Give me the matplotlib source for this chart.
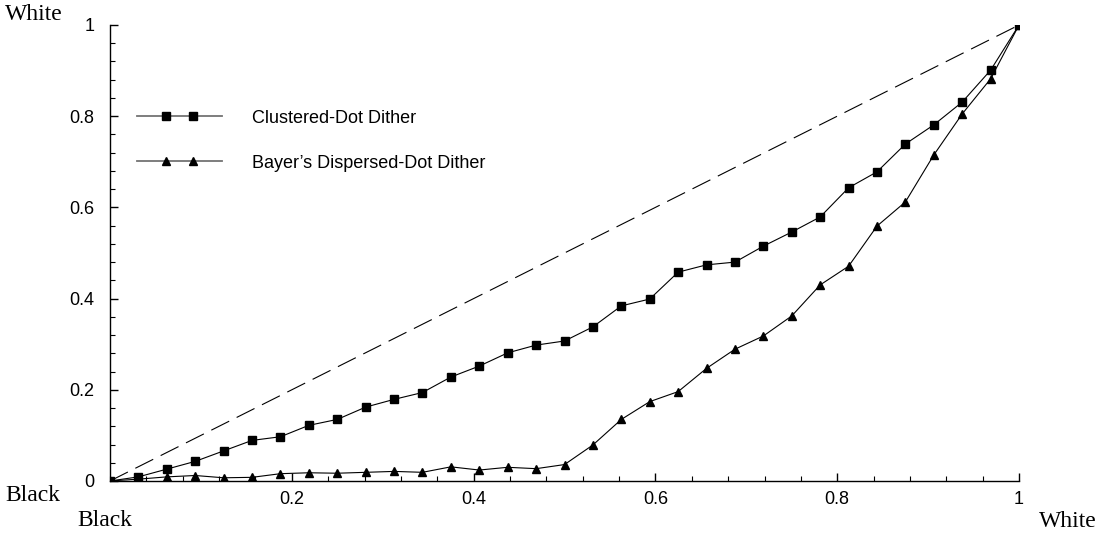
import numpy as np
import matplotlib
matplotlib.use("Agg")
import matplotlib.pyplot as plt
from matplotlib.lines import Line2D
from matplotlib.legend_handler import HandlerLine2D, HandlerTuple
from matplotlib.ticker import MultipleLocator

# input gray level (33 steps from black to white)
levels = np.arange(33) / 32

clustered = [0.0, 0.009, 0.026, 0.043, 0.066, 0.089, 0.097, 0.122, 0.135, 0.162,
             0.179, 0.194, 0.228, 0.252, 0.281, 0.298, 0.307, 0.338, 0.384, 0.399,
             0.458, 0.474, 0.480, 0.515, 0.546, 0.579, 0.643, 0.678, 0.739, 0.781,
             0.831, 0.901, 1.0]

bayer = [0.0, 0.004, 0.009, 0.012, 0.007, 0.008, 0.016, 0.018, 0.017, 0.019,
         0.021, 0.019, 0.031, 0.024, 0.030, 0.027, 0.036, 0.079, 0.135, 0.174,
         0.196, 0.247, 0.289, 0.318, 0.362, 0.430, 0.471, 0.559, 0.612, 0.715,
         0.805, 0.882, 1.0]

series_labels = ["Clustered-Dot Dither", "Bayer\u2019s Dispersed-Dot Dither"]

plt.rcParams['font.family'] = ['Liberation Sans', 'DejaVu Sans']

fig = plt.figure(figsize=(11, 5.33), dpi=100)
ax = fig.add_axes([0.1, 0.0976, 0.8264, 0.8555])

# ideal response
ax.plot([0, 1], [0, 1], color='black', lw=0.8, dashes=(18, 7.5))

ax.plot(levels, clustered, color='black', lw=0.8, marker='s', markersize=5.5)
ax.plot(levels, bayer, color='black', lw=0.8, marker='^', markersize=6)

ax.set_xlim(0, 1)
ax.set_ylim(0, 1)
ax.spines['top'].set_visible(False)
ax.spines['right'].set_visible(False)
ax.spines['left'].set_linewidth(1.0)
ax.spines['bottom'].set_linewidth(1.0)

ax.xaxis.set_major_locator(MultipleLocator(0.2))
ax.yaxis.set_major_locator(MultipleLocator(0.2))
ax.xaxis.set_minor_locator(MultipleLocator(0.04))
ax.yaxis.set_minor_locator(MultipleLocator(0.04))
ax.tick_params(which='major', direction='in', length=6, width=1, labelsize=13)
ax.tick_params(axis='y', which='major', pad=11)
ax.tick_params(axis='x', which='major', pad=7)
ax.tick_params(which='minor', direction='in', length=3.5, width=0.8)
ax.set_xticks([0.2, 0.4, 0.6, 0.8, 1.0])
ax.set_xticklabels(['0.2', '0.4', '0.6', '0.8', '1'])
ax.set_yticks([0, 0.2, 0.4, 0.6, 0.8, 1.0])
ax.set_yticklabels(['0', '0.2', '0.4', '0.6', '0.8', '1'])

# legend: full gray line with two markers on it
handles = []
hmap = {}
for m, ms in [('s', 5.5), ('^', 6)]:
    ln = Line2D([], [], color='0.45', lw=1.3)
    mk = Line2D([], [], color='black', ls='none', marker=m, markersize=ms)
    hmap[mk] = HandlerLine2D(numpoints=2, marker_pad=1.58)
    handles.append((ln, mk))
hmap[tuple] = HandlerTuple(ndivide=1)
ax.legend(handles, series_labels, loc='upper left', bbox_to_anchor=(0.0297, 0.814),
          frameon=False, fontsize=13, handlelength=4.7, handletextpad=1.66,
          labelspacing=1.55, borderpad=0, borderaxespad=0, handler_map=hmap)

serif = ['Liberation Serif', 'DejaVu Serif']
fig.text(5 / 1100, 1 - 20 / 533, 'White', family=serif, fontsize=17, va='baseline', ha='left')
fig.text(5 / 1100, 1 - 501 / 533, 'Black', family=serif, fontsize=17, va='baseline', ha='left')
fig.text(77 / 1100, 1 - 526 / 533, 'Black', family=serif, fontsize=17, va='baseline', ha='left')
fig.text(1097 / 1100, 1 - 527 / 533, 'White', family=serif, fontsize=17, va='baseline', ha='right')

fig.savefig('out.png', dpi=100)
